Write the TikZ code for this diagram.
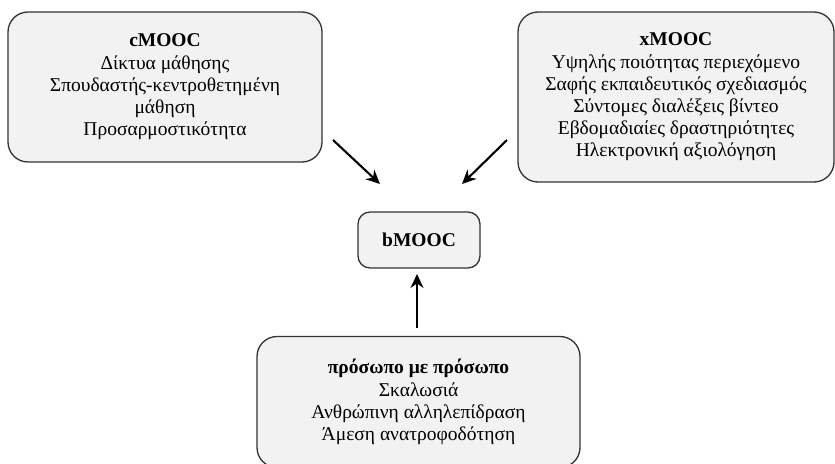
\documentclass[tikz,border=0pt]{standalone}
\usepackage{fontspec}
\setmainfont{Liberation Serif}
\usetikzlibrary{arrows.meta}
\definecolor{boxfill}{HTML}{F2F2F2}
\definecolor{boxline}{HTML}{333333}
\begin{document}
\begin{tikzpicture}[x=1pt,y=-1pt,
  box/.style={draw=boxline,line width=1.3pt,fill=boxfill,rounded corners=20pt,
    align=center,inner sep=0pt,font=\fontsize{19.5}{22.2}\selectfont},
  arr/.style={line width=2.1pt,-{Stealth[length=14pt,width=13pt]}}]
\useasboundingbox (0,0) rectangle (835,463);
\fill[white] (0,0) rectangle (835,463);
\begin{scope}
\clip (0,0) rectangle (835,463);
\node[box,minimum width=314pt,minimum height=150pt] (c) at (165,87)
  {\textbf{cMOOC}\\Δίκτυα μάθησης\\Σπουδαστής-κεντροθετημένη\\μάθηση\\Προσαρμοστικότητα};
\node[box,minimum width=316pt,minimum height=170pt] (x) at (676,97)
  {\textbf{xMOOC}\\Υψηλής ποιότητας περιεχόμενο\\Σαφής εκπαιδευτικός σχεδιασμός\\Σύντομες διαλέξεις βίντεο\\Εβδομαδιαίες δραστηριότητες\\Ηλεκτρονική αξιολόγηση};
\node[box,rounded corners=12pt,minimum width=122pt,minimum height=56pt] (b) at (419,240)
  {\textbf{bMOOC}};
\node[box,minimum width=323pt,minimum height=131pt] (f) at (418.5,402)
  {\textbf{πρόσωπο με πρόσωπο}\\Σκαλωσιά\\Ανθρώπινη αλληλεπίδραση\\Άμεση ανατροφοδότηση};
\end{scope}
\coordinate (a1s) at (333,140);
\coordinate (a1e) at (380,184);
\coordinate (a2s) at (507,140);
\coordinate (a2e) at (462,184);
\coordinate (a3s) at (417,328);
\coordinate (a3e) at (417,274);
\draw[arr] (a1s) -- (a1e);
\draw[arr] (a2s) -- (a2e);
\draw[arr] (a3s) -- (a3e);
\end{tikzpicture}
\end{document}
